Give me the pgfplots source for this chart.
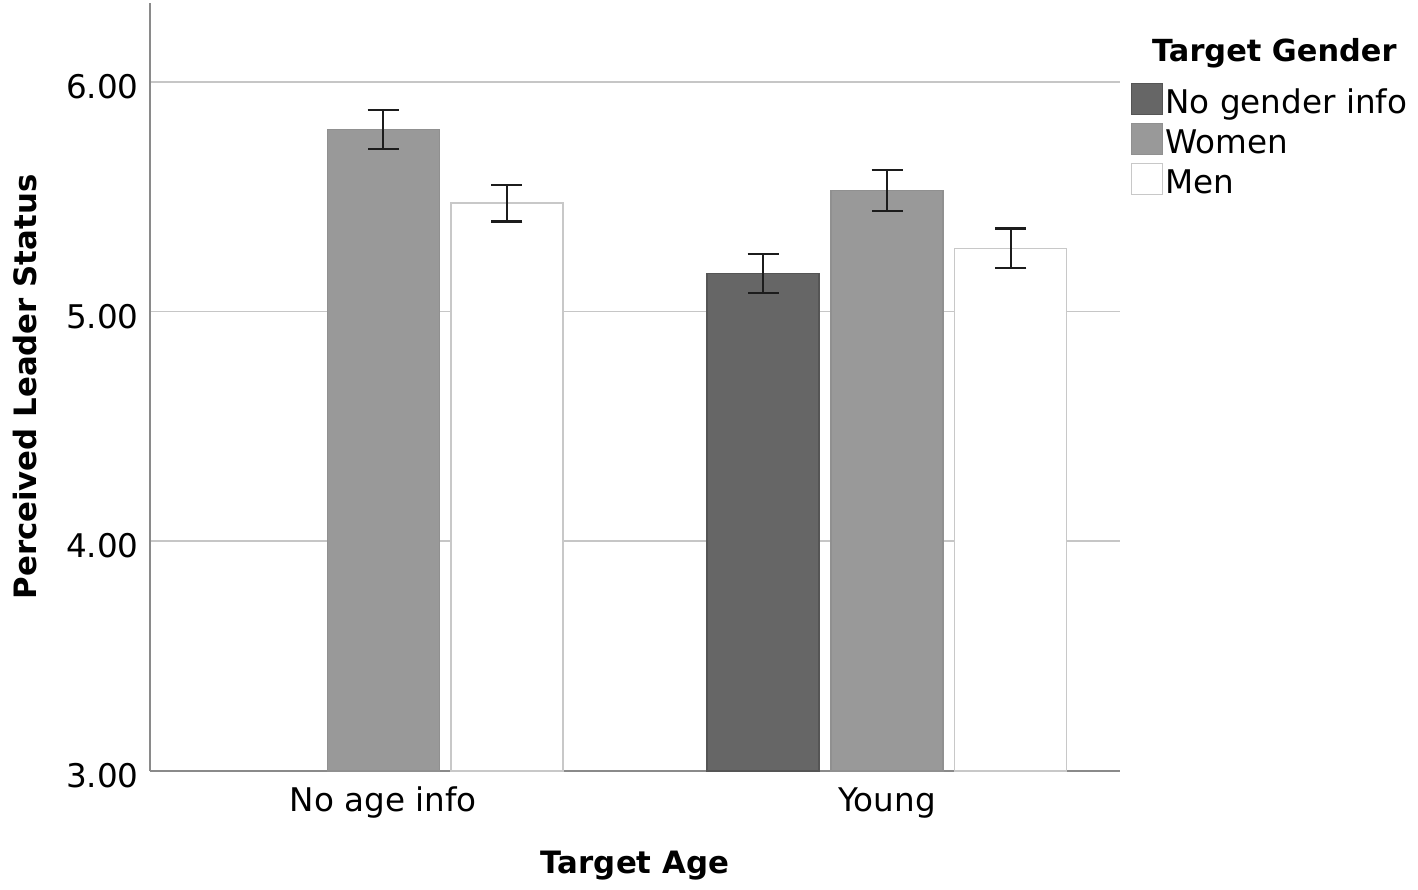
\documentclass[border=0pt]{standalone}
\usepackage{pgfplots}
\pgfplotsset{compat=1.18}
\usepackage{fontspec}
\setmainfont{DejaVu Sans}
\definecolor{ngfill}{HTML}{666666}
\definecolor{ngdraw}{HTML}{555555}
\definecolor{wfill}{HTML}{999999}
\definecolor{wdraw}{HTML}{909090}
\definecolor{mdraw}{HTML}{C8C8C8}
\definecolor{gridgray}{HTML}{C6C6C6}
\definecolor{axisgray}{HTML}{8A8A8A}
\definecolor{errcol}{HTML}{1C1C1C}
\newcommand{\tickfont}{\fontsize{16.3}{19}\selectfont}
\newcommand{\labfont}{\bfseries\fontsize{15.4}{18}\selectfont}
\begin{document}
\begin{tikzpicture}
\useasboundingbox (0,0) rectangle (709pt,444.5pt);
\begin{axis}[
  at={(75pt,59pt)}, anchor=south west,
  scale only axis, width=485pt, height=384pt,
  xmin=-0.4629, xmax=1.4625, ymin=3, ymax=6.343,
  clip=false,
  axis x line*=bottom, axis y line*=left,
  axis line style={draw=axisgray, line width=1pt, -},
  xtick={0,1}, xticklabels={No age info, Young},
  ytick={3,4,5,6}, yticklabels={3.00,4.00,5.00,6.00},
  major tick length=0pt,
  ymajorgrids, grid style={draw=gridgray, line width=0.9pt},
  yticklabel style={font=\tickfont, anchor=base east, inner sep=0pt, xshift=-5.5pt, yshift=-8.3pt},
  xticklabel style={font=\tickfont, anchor=base, inner sep=0pt, yshift=-20.35pt},
  xlabel={Target Age},
  xlabel style={at={(axis description cs:0.5,-0.1341)}, anchor=base, inner sep=0pt, font=\labfont},
  ylabel={Perceived Leader Status},
  ylabel style={at={(axis description cs:-0.1175,0.5)}, anchor=base, inner sep=0pt, font=\labfont},
  legend image code/.code={\draw[#1] (0pt,-0.65pt) rectangle (15.5pt,14.85pt);},
  legend style={at={(axis description cs:1.01103,0.8958)}, anchor=north west,
    draw=none, fill=none, inner sep=0pt, outer sep=0pt, row sep=0pt, column sep=1.25pt,
    font=\tickfont, nodes={inner sep=0pt, text height=14.85pt, text depth=4.9pt},
    cells={anchor=base west}},
  every axis plot/.append style={
    ybar, bar width=0.2223, bar shift=0pt, line width=0.6pt,
    /pgfplots/error bars/y dir=both, /pgfplots/error bars/y explicit,
    /pgfplots/error bars/error bar style={draw=errcol, line width=1.1pt},
    /pgfplots/error bars/error mark options={rotate=90, draw=errcol, line width=1.1pt, mark size=7.75pt}},
]
\addplot[fill=ngfill, draw=ngdraw] coordinates {
  (0.754,5.165) +- (0,0.086)
};
\addlegendentry{No gender info}
\addplot[fill=wfill, draw=wdraw] coordinates {
  (0,5.792) +- (0,0.085)
  (1,5.527) +- (0,0.089)
};
\addlegendentry{Women}
\addplot[fill=white, draw=mdraw] coordinates {
  (0.2457,5.472) +- (0,0.080)
  (1.2457,5.276) +- (0,0.085)
};
\addlegendentry{Men}
\node[anchor=base, inner sep=0pt, font=\bfseries\fontsize{15.2}{18}\selectfont]
  at (axis description cs:1.1591,0.9236) {Target Gender};
\end{axis}
\end{tikzpicture}
\end{document}
